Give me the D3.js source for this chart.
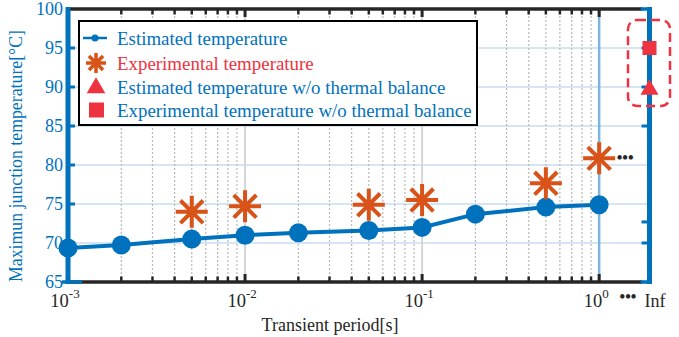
<!DOCTYPE html>
<html><head><meta charset="utf-8">
<script src="https://cdn.jsdelivr.net/npm/d3@7"></script>
<style>body{margin:0;background:#fff}svg{display:block}</style>
</head><body>
<script>
// ---- data ----
const xMajorTicks = [1e-3, 1e-2, 1e-1, 1];
const xTickExps = ["-3", "-2", "-1", "0"];
const yTicks = [65, 70, 75, 80, 85, 90, 95, 100];
const yRightTicks = [95, 90, 85, 72.7, 70];
const timeEst = [0.001, 0.002, 0.005, 0.01, 0.02, 0.05, 0.1, 0.2, 0.5, 1];
const tempEst = [69.35, 69.75, 70.5, 71.0, 71.3, 71.6, 72.0, 73.7, 74.6, 74.9];
const timeExp = [0.005, 0.01, 0.05, 0.1, 0.5, 1];
const tempExp = [74.0, 74.7, 74.9, 75.5, 77.65, 80.85];
const infEstNoBalance = [89.8];
const infExpNoBalance = [95];
const legendLabels = ["Estimated temperature", "Experimental temperature",
  "Estimated temperature w/o thermal balance", "Experimental temperature w/o thermal balance"];

const BLUE = "#0072BD", ORANGE = "#D95319", RED = "#EE3340";
const W = 679, H = 337;
const svg = d3.select("body").append("svg").attr("width", W).attr("height", H)
  .style("font-family", "'Liberation Serif', 'Times New Roman', serif");

const x = d3.scaleLog().domain([1e-3, 1.9]).range([68, 648.5]);
const y = d3.scaleLinear().domain([65, 100]).range([282, 9]);
const X0 = x.range()[0], X1 = x.range()[1], Y0 = y.range()[0], Y1 = y.range()[1];

// minor ticks
const minor = [];
[1e-3, 1e-2, 1e-1].forEach(d => { for (let k = 2; k <= 9; k++) minor.push(d * k); });

// horizontal grid
svg.append("g").selectAll("line").data(yTicks.filter(t => t > 65 && t < 100)).join("line")
  .attr("x1", X0).attr("x2", X1).attr("y1", d => y(d)).attr("y2", d => y(d))
  .attr("stroke", "#D5E5F3").attr("stroke-width", 2);
// vertical minor grid
svg.append("g").selectAll("line").data(minor).join("line")
  .attr("x1", d => x(d)).attr("x2", d => x(d)).attr("y1", Y0).attr("y2", Y1)
  .attr("stroke", "#B8B8B8").attr("stroke-width", 1.2).attr("stroke-dasharray", "2,2");
// vertical major grid
svg.append("g").selectAll("line").data([1e-2, 1e-1]).join("line")
  .attr("x1", d => x(d)).attr("x2", d => x(d)).attr("y1", Y0).attr("y2", Y1)
  .attr("stroke", "#D6D6D6").attr("stroke-width", 2);
// 10^0 line
svg.append("line").attr("x1", x(1)).attr("x2", x(1)).attr("y1", Y0).attr("y2", Y1)
  .attr("stroke", "#7DB5E0").attr("stroke-width", 2.5);

// top & bottom axes (black)
const gAx = svg.append("g");
gAx.append("line").attr("x1", X0).attr("x2", X1 - 6).attr("y1", Y1).attr("y2", Y1)
  .attr("stroke", "#262626").attr("stroke-width", 3.5);
gAx.append("line").attr("x1", X0).attr("x2", X1 - 6).attr("y1", Y0).attr("y2", Y0)
  .attr("stroke", "#262626").attr("stroke-width", 3.5);
const allX = minor.map(d => ({v: d, major: false})).concat(xMajorTicks.map(d => ({v: d, major: true})));
[Y1, Y0].forEach((yy, i) => {
  const dir = i === 0 ? 1 : -1;
  gAx.append("g").selectAll("line").data(allX.filter(d => d.v > 1e-3)).join("line")
    .attr("x1", d => x(d.v)).attr("x2", d => x(d.v))
    .attr("y1", yy).attr("y2", d => yy + dir * (d.major ? 8 : 5.5))
    .attr("stroke", "#262626").attr("stroke-width", d => d.major ? 3 : 2.5);
});

// left & right axes (blue)
gAx.append("line").attr("x1", X0).attr("x2", X0).attr("y1", Y0 + 2).attr("y2", Y1 - 2)
  .attr("stroke", BLUE).attr("stroke-width", 5);
gAx.append("line").attr("x1", X0 - 6).attr("x2", X0 + 14).attr("y1", Y0).attr("y2", Y0)
  .attr("stroke", BLUE).attr("stroke-width", 3.5);
gAx.append("g").selectAll("line").data(yTicks.filter(t => t > 65 && t < 100)).join("line")
  .attr("x1", X0).attr("x2", X0 + 7).attr("y1", d => y(d)).attr("y2", d => y(d))
  .attr("stroke", BLUE).attr("stroke-width", 3);
gAx.append("line").attr("x1", X1 + 1).attr("x2", X1 + 1).attr("y1", Y0 + 2).attr("y2", Y1 - 2)
  .attr("stroke", BLUE).attr("stroke-width", 5);
gAx.append("line").attr("x1", X1 - 8).attr("x2", X1 + 1).attr("y1", Y0).attr("y2", Y0)
  .attr("stroke", BLUE).attr("stroke-width", 3.5);
gAx.append("line").attr("x1", X1 - 8).attr("x2", X1 + 1).attr("y1", Y1).attr("y2", Y1)
  .attr("stroke", BLUE).attr("stroke-width", 3.5);
gAx.append("g").selectAll("line").data(yRightTicks).join("line")
  .attr("x1", X1 + 1).attr("x2", X1 - 7).attr("y1", d => y(d)).attr("y2", d => y(d))
  .attr("stroke", BLUE).attr("stroke-width", 3);

// y tick labels
svg.append("g").selectAll("text").data(yTicks).join("text")
  .attr("x", 63).attr("y", d => y(d) + 6).attr("text-anchor", "end")
  .attr("fill", BLUE).attr("font-size", 18).text(d => d);
// y axis label
svg.append("text").attr("transform", `translate(22,156) rotate(-90)`)
  .attr("text-anchor", "middle").attr("fill", BLUE).attr("font-size", 17.8)
  .text("Maximun junction temperature[°C]");

// x tick labels
xMajorTicks.forEach((t, i) => {
  const tx = svg.append("text").attr("x", x(t) - 3).attr("y", 307).attr("text-anchor", "middle")
    .attr("fill", "#262626").attr("font-size", 18.5);
  tx.append("tspan").text("10");
  tx.append("tspan").attr("dy", -9).attr("font-size", 13).text(xTickExps[i]);
});
svg.append("text").attr("x", 628).attr("y", 302).attr("text-anchor", "middle")
  .attr("fill", "#262626").attr("font-size", 16).attr("font-weight", "bold").text("•••");
svg.append("text").attr("x", 655).attr("y", 307).attr("text-anchor", "middle")
  .attr("fill", "#262626").attr("font-size", 18).text("Inf");
svg.append("text").attr("x", 330).attr("y", 331).attr("text-anchor", "middle")
  .attr("fill", "#262626").attr("font-size", 18).text("Transient period[s]");

// estimated line + markers
const line = d3.line().x((d, i) => x(timeEst[i])).y(d => y(d));
svg.append("path").datum(tempEst).attr("d", line).attr("fill", "none")
  .attr("stroke", BLUE).attr("stroke-width", 4);
svg.append("g").selectAll("circle").data(tempEst).join("circle")
  .attr("cx", (d, i) => x(timeEst[i])).attr("cy", d => y(d)).attr("r", 9.5).attr("fill", BLUE);

// asterisk
function asterisk(s) {
  const d = s * 0.7071;
  return `M${-s},0L${s},0M0,${-s}L0,${s}M${-d},${-d}L${d},${d}M${-d},${d}L${d},${-d}`;
}
svg.append("g").selectAll("path").data(tempExp).join("path")
  .attr("transform", (d, i) => `translate(${x(timeExp[i])},${y(d)})`)
  .attr("d", asterisk(16)).attr("stroke", ORANGE).attr("stroke-width", 4).attr("fill", "none");
svg.append("text").attr("x", x(1) + 26).attr("y", y(tempExp[tempExp.length - 1]) + 5)
  .attr("text-anchor", "middle").attr("fill", "#262626").attr("font-size", 16)
  .attr("font-weight", "bold").text("•••");

// legend
const lg = svg.append("g");
lg.append("rect").attr("x", 79).attr("y", 21).attr("width", 398).attr("height", 104)
  .attr("fill", "#fff").attr("stroke", "#000").attr("stroke-width", 2);
const ly = [38, 63, 87, 110];
lg.selectAll("text").data(legendLabels).join("text")
  .attr("x", 117).attr("y", (d, i) => ly[i] + 6.5).attr("font-size", 18.9)
  .attr("fill", (d, i) => i === 1 ? RED : BLUE).text(d => d);
lg.append("line").attr("x1", 83).attr("x2", 107).attr("y1", ly[0]).attr("y2", ly[0])
  .attr("stroke", BLUE).attr("stroke-width", 2.5);
lg.append("circle").attr("cx", 95).attr("cy", ly[0]).attr("r", 3.5).attr("fill", BLUE);
lg.append("path").attr("transform", `translate(96,${ly[1]})`).attr("d", asterisk(10))
  .attr("stroke", ORANGE).attr("stroke-width", 3.5).attr("fill", "none");
const tri = d3.symbol().type(d3.symbolTriangle);
lg.append("path").attr("transform", `translate(96,${ly[2] + 1})`).attr("d", tri.size(150)())
  .attr("fill", RED);
lg.append("rect").attr("x", 89).attr("y", ly[3] - 7.5).attr("width", 15).attr("height", 15)
  .attr("fill", RED);

// inf markers
svg.append("rect").attr("x", 628).attr("y", 20).attr("width", 42).attr("height", 86)
  .attr("rx", 9).attr("fill", "none").attr("stroke", RED).attr("stroke-width", 2.5)
  .attr("stroke-dasharray", "9,5");
svg.append("g").selectAll("path").data(infEstNoBalance).join("path")
  .attr("transform", d => `translate(${X1 + 1},${y(d) + 1})`).attr("d", tri.size(140)())
  .attr("fill", RED);
svg.append("g").selectAll("rect").data(infExpNoBalance).join("rect")
  .attr("x", X1 + 1 - 7).attr("y", d => y(d) - 7).attr("width", 14).attr("height", 14)
  .attr("fill", RED);
</script>
</body></html>
